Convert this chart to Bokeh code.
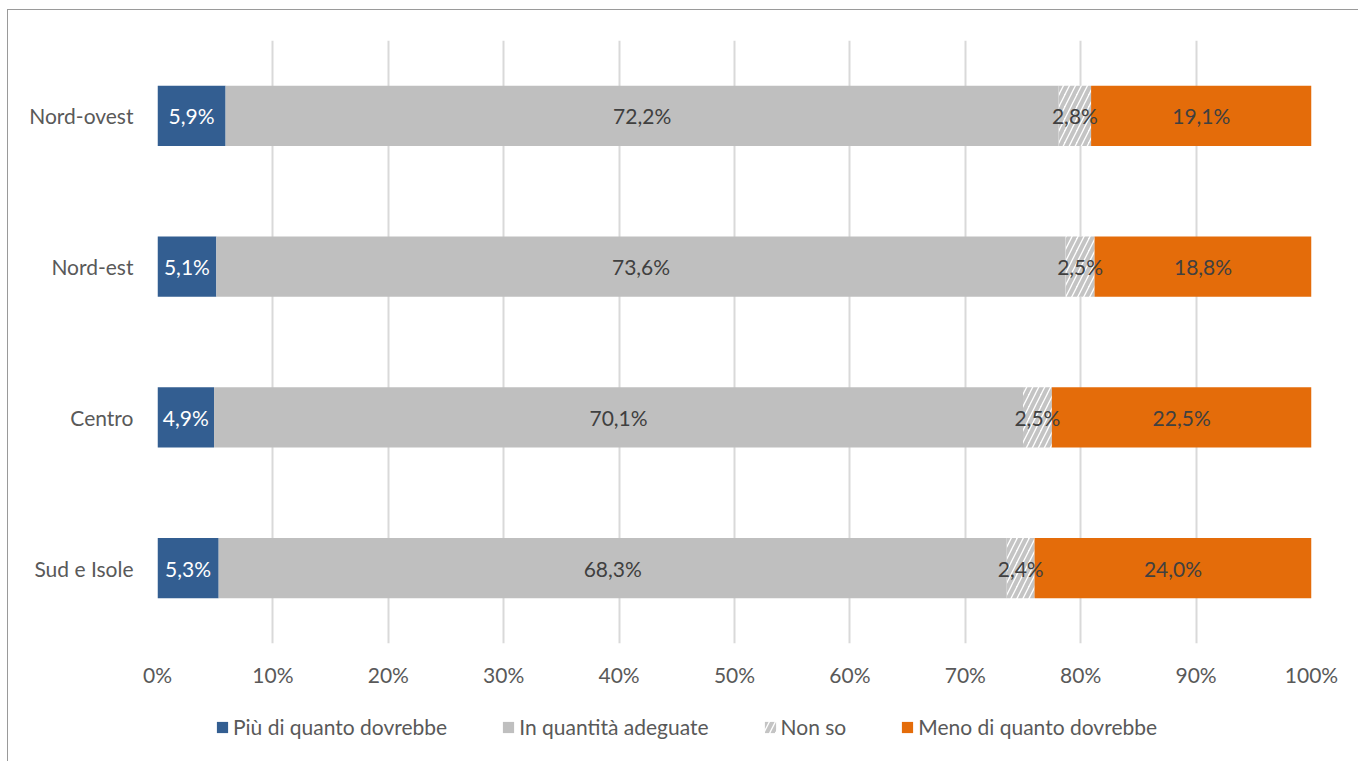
from bokeh.plotting import figure
from bokeh.layouts import column
from bokeh.models import ColumnDataSource, Legend, LegendItem, FixedTicker, LabelSet, CustomJSTickFormatter, Range1d
from bokeh.core.properties import value
from bokeh.embed import file_html
from bokeh.resources import INLINE

regions = ["Nord-ovest", "Nord-est", "Centro", "Sud e Isole"]
series = ["Più di quanto dovrebbe", "In quantità adeguate", "Non so", "Meno di quanto dovrebbe"]
piu = [5.9, 5.1, 4.9, 5.3]
adeguate = [72.2, 73.6, 70.1, 68.3]
nonso = [2.8, 2.5, 2.5, 2.4]
meno = [19.1, 18.8, 22.5, 24.0]
x_ticks = [0, 10, 20, 30, 40, 50, 60, 70, 80, 90, 100]

FONT = "Lato"
FS = "21px"
colors = ["#335e91", "#bfbfbf", "#ffffff", "#e46c0a"]
label_colors = ["#ffffff", "#404040", "#404040", "#404040"]
HATCH = dict(hatch_pattern="/", hatch_color="#c4c4c4", hatch_weight=4, hatch_scale=12)

cats = list(reversed(regions))
p = figure(y_range=cats, x_range=(0, 100), width=1350, height=700,
           output_backend="svg", toolbar_location=None,
           min_border_left=149, min_border_right=47, min_border_top=30, min_border_bottom=67)
p.outline_line_color = None
p.background_fill_color = "white"

# legend-only figure underneath (its renderers are hidden; only the legend shows)
pl = figure(y_range=cats, x_range=Range1d(0, 100), width=1350, height=51,
            output_backend="svg", toolbar_location=None, x_axis_type=None, y_axis_type=None,
            min_border_left=0, min_border_right=0, min_border_top=0, min_border_bottom=0)
pl.outline_line_color = None
pl.xgrid.grid_line_color = None
pl.ygrid.grid_line_color = None

vals = [piu, adeguate, nonso, meno]
starts = [0, 0, 0, 0]
items = []
for i, (name, v) in enumerate(zip(series, vals)):
    left = list(starts)
    right = [a + b for a, b in zip(starts, v)]
    mid = [(a + b) / 2 for a, b in zip(left, right)]
    src = ColumnDataSource(dict(y=regions, left=left, right=right, mid=mid,
                                lab=[f"{x:.1f}".replace(".", ",") + "%" for x in v]))
    kw = HATCH if name == "Non so" else {}
    p.hbar(y="y", left="left", right="right", height=0.4, source=src,
           fill_color=colors[i], line_color=None, **kw)
    rl = pl.hbar(y="y", left="left", right="right", height=0.4, source=src,
                 fill_color=colors[i], line_color=None, visible=False, **kw)
    items.append(LegendItem(label=name, renderers=[rl]))
    lbl = LabelSet(x="mid", y="y", text="lab", source=src, text_align="center",
                   text_baseline="middle", text_color=label_colors[i],
                   text_font=value(FONT), text_font_size=value(FS))
    p.add_layout(lbl)
    starts = right

p.xaxis.ticker = FixedTicker(ticks=x_ticks)
p.xaxis.formatter = CustomJSTickFormatter(code="return tick + '%';")
p.xaxis.axis_line_color = None
p.xaxis.major_tick_line_color = None
p.xaxis.minor_tick_line_color = None
p.xaxis.major_label_standoff = 12
p.xaxis.major_label_text_font = FONT
p.xaxis.major_label_text_font_size = FS
p.xaxis.major_label_text_color = "#595959"

p.yaxis.axis_line_color = None
p.yaxis.major_tick_line_color = None
p.yaxis.major_label_standoff = 18
p.yaxis.major_label_text_font = FONT
p.yaxis.major_label_text_font_size = FS
p.yaxis.major_label_text_color = "#595959"

p.xgrid.grid_line_color = "#d9d9d9"
p.xgrid.grid_line_width = 2
p.ygrid.grid_line_color = None
p.xgrid.level = "underlay"

legend = Legend(items=items, orientation="horizontal", location=(58, 22),
                label_text_font=FONT, label_text_font_size=FS, label_text_color="#595959",
                glyph_width=14, glyph_height=14, spacing=54, label_standoff=4,
                inactive_fill_alpha=0,
                border_line_color=None, background_fill_alpha=0, padding=0, margin=0)
pl.add_layout(legend, "center")

layout = column(p, pl, spacing=0)
layout.styles = {"border-left": "1px solid #9a9a9a", "border-top": "1px solid #9a9a9a",
                 "margin-left": "7px", "margin-top": "9px"}

open("out.html", "w").write(file_html(layout, INLINE))
